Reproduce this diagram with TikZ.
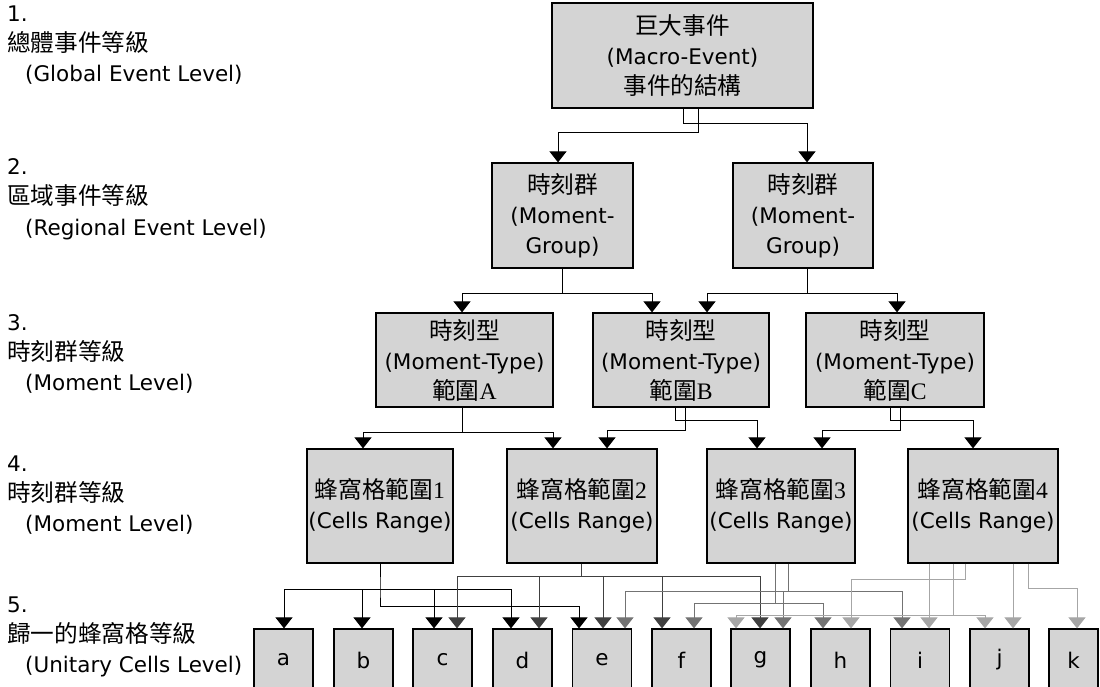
\documentclass[tikz,border=0pt]{standalone}
\usepackage{fontspec}
\setmainfont{DejaVu Sans}
\newfontfamily\cjk[Scale=1.1]{Noto Sans CJK TC}
\newfontfamily\lat[Scale=1.1]{Liberation Serif}
\usetikzlibrary{arrows.meta}
\tikzset{>={Triangle[width=17pt,length=11pt]}}
\tikzset{
  box/.style={draw, line width=1.2pt, fill=black!17, inner sep=0pt, align=center},
  cell/.style={box, minimum width=59pt, minimum height=62pt},
  lvl/.style={anchor=base west, align=left, inner sep=0pt},
  conn/.style={->, line width=1pt},
  c1/.style={conn, black},
  c2/.style={conn, black!75},
  c3/.style={conn, black!55},
  c4/.style={conn, black!35},
}

\begin{document}
\begin{tikzpicture}[x=1pt, y=-1pt, font=\fontsize{21.5}{30}\selectfont]
  \useasboundingbox (0,0) rectangle (1100,687);

  % levels
  \node[lvl] (l1) at (7,82) {1.\\{\cjk 總體事件等級}\\\hspace*{18pt}(Global Event Level)};
  \node[lvl] (l2) at (7,235) {2.\\{\cjk 區域事件等級}\\\hspace*{18pt}(Regional Event Level)};
  \node[lvl] (l3) at (7,390) {3.\\{\cjk 時刻群等級}\\\hspace*{18pt}(Moment Level)};
  \node[lvl] (l4) at (7,531) {4.\\{\cjk 時刻群等級}\\\hspace*{18pt}(Moment Level)};
  \node[lvl] (l5) at (7,672) {5.\\{\cjk 歸一的蜂窩格等級}\\\hspace*{18pt}(Unitary Cells Level)};

  % boxes
  \node[box, minimum width=261pt, minimum height=105pt] (top) at (682.5,55.5)
    {{\cjk 巨大事件}\\(Macro-Event)\\{\cjk 事件的結構}};
  \node[box, minimum width=141pt, minimum height=105pt] (mg1) at (562.5,215.5)
    {{\cjk 時刻群}\\(Moment-\\Group)};
  \node[box, minimum width=140pt, minimum height=105pt] (mg2) at (803,215.5)
    {{\cjk 時刻群}\\(Moment-\\Group)};
  \node[box, minimum width=177pt, minimum height=94pt] (mta) at (464.5,360)
    {{\cjk 時刻型}\\(Moment-Type)\\{\cjk 範圍}{\lat A}};
  \node[box, minimum width=176pt, minimum height=94pt] (mtb) at (681,360)
    {{\cjk 時刻型}\\(Moment-Type)\\{\cjk 範圍}{\lat B}};
  \node[box, minimum width=178pt, minimum height=94pt] (mtc) at (895,360)
    {{\cjk 時刻型}\\(Moment-Type)\\{\cjk 範圍}{\lat C}};
  \node[box, minimum width=146pt, minimum height=114pt] (cr1) at (380,506)
    {{\cjk 蜂窩格範圍}{\lat 1}\\(Cells Range)};
  \node[box, minimum width=150pt, minimum height=114pt] (cr2) at (582,506)
    {{\cjk 蜂窩格範圍}{\lat 2}\\(Cells Range)};
  \node[box, minimum width=148pt, minimum height=114pt] (cr3) at (781,506)
    {{\cjk 蜂窩格範圍}{\lat 3}\\(Cells Range)};
  \node[box, minimum width=150pt, minimum height=114pt] (cr4) at (983,506)
    {{\cjk 蜂窩格範圍}{\lat 4}\\(Cells Range)};
  \foreach \n/\x in {a/283.5,b/363.5,c/442.5,d/522.5,e/602,f/681.5,
                     g/760.5,h/840.5,i/920,j/999.5}
    \node[cell] (\n) at (\x,660) {\n};
  \node[cell, minimum width=49pt] (k) at (1073.5,660) {k};

  % level 1 -> 2
  \draw[c1] ([xshift=0.5]top.south) -- ++(0,15) -| ([xshift=4]mg2.north);
  \draw[c1] ([xshift=15.5]top.south) -- ++(0,24) -| ([xshift=-4.5]mg1.north);

  % level 2 -> 3
  \draw[c1] (mg1.south) -- ++(0,25) coordinate (g1) -| ([xshift=-2.5]mta.north);
  \draw[c1] (g1) -| ([xshift=-29]mtb.north);
  \draw[c1] ([xshift=4]mg2.south) -- ++(0,25) coordinate (g2) -| ([xshift=26]mtb.north);
  \draw[c1] (g2) -| ([xshift=2]mtc.north);

  % level 3 -> 4
  \draw[c1] ([xshift=-2.5]mta.south) -- ++(0,25) coordinate (t1) -| ([xshift=-17]cr1.north);
  \draw[c1] (t1) -| ([xshift=-29]cr2.north);
  \draw[c1] ([xshift=-6]mtb.south) -- ++(0,13) -| ([xshift=-24]cr3.north);
  \draw[c1] ([xshift=4]mtb.south) -- ++(0,23) -| ([xshift=25]cr2.north);
  \draw[c1] ([xshift=-5]mtc.south) -- ++(0,13) -| ([xshift=-10]cr4.north);
  \draw[c1] ([xshift=5]mtc.south) -- ++(0,23) -| ([xshift=41]cr3.north);

  % level 4 -> 5
  \draw[c1] (cr1.south) -- ++(0,26) coordinate (h1) -- ++(0,17) -| ([xshift=-23]e.north);
  \foreach \t/\s in {a/0.5,b/-1.5,c/-8.5,d/-11.5}
    \draw[c1] (h1) -| ([xshift=\s]\t.north);
  \draw[c2, -] ([xshift=-1]cr2.south) -- ++(0,13) coordinate (h2);
  \foreach \t/\s in {c/14.5,d/16.5,e/1,f/-19.5,g/-0.5}
    \draw[c2] (h2) -| ([xshift=\s]\t.north);
  \draw[c3, -] ([xshift=7]cr3.south) -- ++(0,28) coordinate (h3);
  \foreach \t/\s in {e/23,g/22.5,i/-18}
    \draw[c3] (h3) -| ([xshift=\s]\t.north);
  \draw[c3, -] ([xshift=-6]cr3.south) -- ++(0,40) coordinate (h4);
  \foreach \t/\s in {f/12.5,h/-17.5}
    \draw[c3] (h4) -| ([xshift=\s]\t.north);
  \draw[c4] ([xshift=9]i.north |- cr4.south) -- ([xshift=9]i.north);
  \draw[c4] ([xshift=13.5]j.north |- cr4.south) -- ([xshift=13.5]j.north);
  \draw[c4, -] ([xshift=-30]cr4.south) -- ++(0,52) coordinate (h5);
  \foreach \t/\s in {g/-24.5,j/-14.5}
    \draw[c4] (h5) -| ([xshift=\s]\t.north);
  \draw[c4] ([xshift=-18]cr4.south) -- ++(0,16) -| ([xshift=10.5]h.north);
  \draw[c4] ([xshift=45]cr4.south) -- ++(0,25) -| ([xshift=3.5]k.north);
\end{tikzpicture}
\end{document}
